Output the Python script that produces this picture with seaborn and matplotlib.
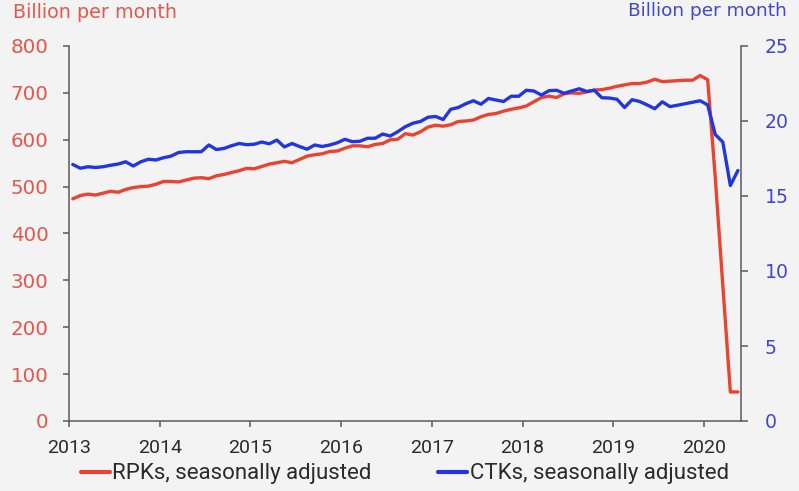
import numpy as np
import pandas as pd
import matplotlib
matplotlib.use("Agg")
import matplotlib.pyplot as plt
from matplotlib.lines import Line2D
import seaborn as sns

# ---- data ----
months = pd.period_range("2013-01", "2020-05", freq="M")

rpk = [474, 481, 484, 482, 486, 490, 488, 494, 498, 500, 501, 505,
       511, 511, 510, 514, 518, 519, 517, 523, 526, 530, 534, 539,
       538, 543, 548, 551, 554, 551, 558, 565, 568, 570, 575, 576,
       582, 587, 587, 585, 590, 592, 600, 601, 613, 610, 617, 627,
       631, 629, 632, 639, 640, 642, 649, 654, 656, 661, 665, 668,
       672, 681, 690, 693, 690, 698, 700, 699, 702, 706, 707, 710,
       714, 717, 720, 720, 723, 729, 724, 725, 726, 727, 727, 737,
       728, 520, 290, 62, 62]

ctk = [17.10, 16.85, 16.95, 16.90, 16.95, 17.05, 17.13, 17.28, 17.00, 17.28, 17.45, 17.40,
       17.55, 17.66, 17.90, 17.95, 17.95, 17.95, 18.40, 18.10, 18.17, 18.35, 18.50, 18.42,
       18.45, 18.60, 18.48, 18.73, 18.27, 18.50, 18.30, 18.12, 18.40, 18.30, 18.40, 18.55,
       18.78, 18.62, 18.65, 18.85, 18.85, 19.13, 19.00, 19.29, 19.62, 19.85, 19.97, 20.25,
       20.30, 20.10, 20.78, 20.90, 21.15, 21.35, 21.12, 21.50, 21.40, 21.30, 21.65, 21.65,
       22.05, 22.00, 21.73, 22.02, 22.05, 21.85, 22.00, 22.15, 21.97, 22.05, 21.55, 21.53,
       21.45, 20.90, 21.42, 21.30, 21.07, 20.82, 21.28, 20.96, 21.05, 21.15, 21.25, 21.35,
       21.07, 19.10, 18.60, 15.70, 16.70]

year_ticks = [2013, 2014, 2015, 2016, 2017, 2018, 2019, 2020]
left_ticks = [0, 100, 200, 300, 400, 500, 600, 700, 800]
right_ticks = [0, 5, 10, 15, 20, 25]
left_title = "Billion per month"
right_title = "Billion per month"
rpk_label = "RPKs, seasonally adjusted"
ctk_label = "CTKs, seasonally adjusted"

# ---- style ----
RED_LINE = "#ea4430"
BLUE_LINE = "#2236e0"
RED_TEXT = "#e2594e"
BLUE_TEXT = "#3f47d2"
BG = "#f3f3f3"
SPINE = "#5a5a5a"

sns.set_theme(style="ticks")
plt.rcParams["font.family"] = ["DejaVu Sans"]

W, H = 799, 491
fig = plt.figure(figsize=(W / 100, H / 100), dpi=100)
fig.patch.set_facecolor(BG)

x0, x1, yb, yt = 69, 741, 421, 46
ax = fig.add_axes([x0 / W, 1 - yb / H, (x1 - x0) / W, (yb - yt) / H])
ax.set_facecolor(BG)
ax2 = ax.twinx()

df = pd.DataFrame({
    "t": months.year + (months.month - 0.5) / 12.0,
    "RPK": rpk,
    "CTK": ctk,
})

sns.lineplot(data=df, x="t", y="RPK", ax=ax, color=RED_LINE, lw=2.4, legend=False)
sns.lineplot(data=df, x="t", y="CTK", ax=ax2, color=BLUE_LINE, lw=2.4, legend=False)

ax.set_xlim(2013, 2013 + (x1 - x0) / 90.7)
ax.set_ylim(0, 800)
ax2.set_ylim(0, 25)
ax.set_xticks(year_ticks)
ax.set_xticklabels([str(y) for y in year_ticks])
ax.set_yticks(left_ticks)
ax2.set_yticks(right_ticks)
ax.set_xlabel("")
ax.set_ylabel("")
ax2.set_ylabel("")
ax.grid(False)
ax2.grid(False)

for a in (ax, ax2):
    a.spines["top"].set_visible(False)
    for s in ("left", "right", "bottom"):
        a.spines[s].set_color(SPINE)
        a.spines[s].set_linewidth(1.1)
ax.spines["right"].set_visible(False)
ax2.spines["left"].set_visible(False)
ax2.spines["bottom"].set_visible(False)

ax.tick_params(axis="y", colors=SPINE, labelcolor=RED_TEXT, length=4, width=1.1,
               pad=10.5, labelsize=14.3)
ax.tick_params(axis="x", colors=SPINE, labelcolor="#2b2b2b", length=4, width=1.1,
               pad=9, labelsize=14)
for lab in ax.get_xticklabels():
    lab.set_family(["Roboto", "DejaVu Sans"])
ax2.tick_params(axis="y", colors=SPINE, labelcolor=BLUE_TEXT, length=5, width=1.1,
                pad=12, labelsize=13.6)

fig.text(13 / W, 1 - 3 / H, left_title, color=RED_TEXT, fontsize=13.8,
         ha="left", va="top")
fig.text(787 / W, 1 - 2 / H, right_title, color=BLUE_TEXT, fontsize=13.3,
         ha="right", va="top")

handles = [Line2D([], [], color=RED_LINE, lw=3), Line2D([], [], color=BLUE_LINE, lw=3)]
leg = fig.legend(handles, [rpk_label, ctk_label], loc="center",
                 bbox_to_anchor=(405 / W, 1 - 474 / H), ncol=2, frameon=False,
                 handlelength=1.3, handletextpad=0.1, columnspacing=3.0,
                 prop={"family": ["Roboto", "DejaVu Sans"], "size": 16})
for t in leg.get_texts():
    t.set_color("#2b2b2b")

fig.savefig("out.png", dpi=100, facecolor=BG)
